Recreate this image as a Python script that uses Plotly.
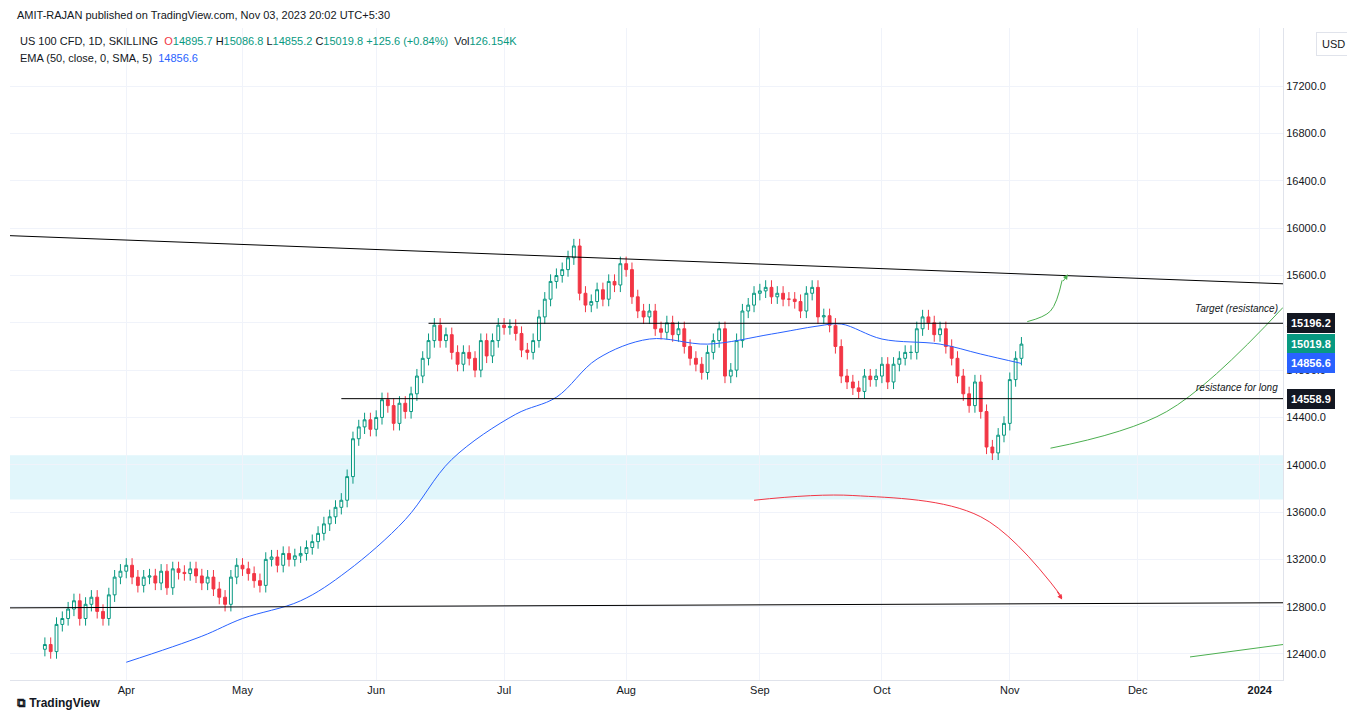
import plotly.graph_objects as go
import pandas as pd

months = [("2023-03-14","2023-03-31"),("2023-04-01","2023-04-30"),("2023-05-01","2023-05-31"),
          ("2023-06-01","2023-06-30"),("2023-07-01","2023-07-31"),("2023-08-01","2023-08-31"),
          ("2023-09-01","2023-09-30"),("2023-10-01","2023-10-31"),("2023-11-01","2023-11-03")]
closes_by_month = [
 [12480,12420,12650,12700,12780,12850,12700,12820,12880,12760,12700,12900,13050,13100],
 [13150,13050,12980,13050,13060,13000,13100,12960,13120,13090,13080,13120,13060,13000,13050,12950,12880,12820,13050,13150],
 [13120,13080,13020,12980,13200,13220,13150,13250,13200,13230,13250,13300,13350,13420,13500,13560,13640,13700,13900,14220,14320,14380,14300],
 [14400,14550,14500,14350,14520,14450,14600,14750,14900,15050,15180,15050,15100,14950,14850,14950,14900,14800,15050,14920,15050,15180],
 [15160,15170,15110,14970,14950,15050,15250,15400,15550,15600,15650,15750,15850,15450,15350,15380,15480,15400,15550,15520,15700],
 [15650,15420,15300,15250,15300,15150,15120,15200,15100,15150,15000,14900,14850,14780,14950,15050,15150,14750,14800,15050,15300,15350,15450],
 [15470,15500,15420,15450,15400,15400,15380,15300,15450,15500,15250,15260,15180,15000,14750,14700,14650,14620,14750,14720,14750],
 [14850,14700,14850,14900,14950,14950,15150,15250,15200,15100,15150,15000,14900,14750,14600,14500,14700,14450,14150,14100,14250,14350],
 [14720,14900,15020],
]
dates, closes = [], []
for (a, b), cl in zip(months, closes_by_month):
    d = list(pd.bdate_range(a, b))
    n = min(len(d), len(cl))
    dates += d[:n]; closes += cl[:n]
opens = [closes[0] - 40] + closes[:-1]
highs = [max(o, c) + 60 for o, c in zip(opens, closes)]
lows = [min(o, c) - 60 for o, c in zip(opens, closes)]

ema_dates = ["2023-04-03","2023-04-20","2023-05-01","2023-05-15","2023-05-25","2023-06-08","2023-06-20",
             "2023-07-05","2023-07-14","2023-07-25","2023-08-07","2023-08-21","2023-09-05","2023-09-15",
             "2023-09-21","2023-10-02","2023-10-16","2023-10-25","2023-11-03"]
ema_vals = [12330,12550,12700,12850,13100,13536,14045,14427,14571,14894,15063,15020,15105,15173,
            15190,15063,15020,14936,14856.6]

fig = go.Figure()
x0, x1 = "2023-03-06", "2024-01-05"
fig.add_shape(type="rect", x0=x0, x1=x1, y0=13706, y1=14080, fillcolor="#e1f6fb", line_width=0, layer="below")
fig.add_trace(go.Candlestick(x=dates, open=opens, high=highs, low=lows, close=closes,
    increasing=dict(line=dict(color="#089981", width=1), fillcolor="#ffffff"),
    decreasing=dict(line=dict(color="#f23645", width=1), fillcolor="#f23645"),
    whiskerwidth=0, showlegend=False))
fig.add_trace(go.Scatter(x=ema_dates, y=ema_vals, mode="lines", line=dict(color="#2962ff", width=1, shape="spline"), showlegend=False))

for (xa, ya, xb, yb) in [(x0, 15937, x1, 15530), (x0, 12790, x1, 12833),
                         ("2023-06-14", 15196.2, x1, 15196.2), ("2023-05-24", 14558.9, x1, 14558.9)]:
    fig.add_shape(type="line", x0=xa, y0=ya, x1=xb, y1=yb, line=dict(color="#000000", width=1))

green = "#4caf50"; red = "#f23645"
fig.add_trace(go.Scatter(x=["2023-11-06","2023-11-10","2023-11-14"], y=[15210,15300,15560], mode="lines",
    line=dict(color=green, width=1, shape="spline"), showlegend=False))
fig.add_trace(go.Scatter(x=["2023-11-10","2023-12-08","2024-01-05"], y=[14140,14450,15330], mode="lines",
    line=dict(color=green, width=1, shape="spline"), showlegend=False))
fig.add_trace(go.Scatter(x=["2023-08-31","2023-09-25","2023-10-25","2023-11-14"], y=[13700,13740,13560,12880], mode="lines",
    line=dict(color=red, width=1, shape="spline"), showlegend=False))
fig.add_trace(go.Scatter(x=["2023-12-14","2024-01-05"], y=[12375,12480], mode="lines",
    line=dict(color=green, width=1), showlegend=False))
for xh, yh, xt, yt, c in [("2023-11-15", 15610, "2023-11-14", 15540, green), ("2023-11-14", 12860, "2023-11-13", 12940, red)]:
    fig.add_annotation(x=xh, y=yh, ax=xt, ay=yt, axref="x", ayref="y", text="", showarrow=True,
                       arrowhead=2, arrowsize=1, arrowwidth=1, arrowcolor=c)

fig.add_annotation(x=0.998, y=15196.2+60, xref="paper", xanchor="right", yanchor="bottom", text="<i>Target (resistance)</i>",
                   showarrow=False, font=dict(size=10, color="#131722"))
fig.add_annotation(x=0.998, y=14558.9+30, xref="paper", xanchor="right", yanchor="bottom", text="<i>resistance for long</i>",
                   showarrow=False, font=dict(size=10, color="#131722"))
for v, bg in [(15196.2, "#131722"), (15019.8, "#089981"), (14856.6, "#2962ff"), (14558.9, "#131722")]:
    fig.add_annotation(x=1.003, y=v, xref="paper", xanchor="left", text=f"<b>{v:.1f}</b>", showarrow=False,
                       bgcolor=bg, font=dict(color="white", size=11), borderpad=3, bordercolor=bg, borderwidth=1)

H = 652.0
def py(pix):  # pixel row in the reference -> paper y
    return 1 - (pix - 28) / H
fig.add_annotation(x=0.004, y=py(15), xref="paper", yref="paper", xanchor="left", yanchor="middle", showarrow=False,
    text="AMIT-RAJAN published on TradingView.com, Nov 03, 2023 20:02 UTC+5:30", font=dict(size=11, color="#131722"))
fig.add_annotation(x=0.006, y=py(41), xref="paper", yref="paper", xanchor="left", yanchor="middle", showarrow=False,
    text="US 100 CFD, 1D, SKILLING  <span style='color:#f23645'>O</span><span style='color:#089981'>14895.7</span> H<span style='color:#089981'>15086.8</span> L<span style='color:#089981'>14855.2</span> C<span style='color:#089981'>15019.8 +125.6 (+0.84%)</span>  Vol<span style='color:#089981'>126.154K</span>",
    font=dict(size=11, color="#131722"))
fig.add_annotation(x=0.006, y=py(58), xref="paper", yref="paper", xanchor="left", yanchor="middle", showarrow=False,
    text="EMA (50, close, 0, SMA, 5)  <span style='color:#2962ff'>14856.6</span>", font=dict(size=11, color="#131722"))
fig.add_annotation(x=0.004, y=py(703), xref="paper", yref="paper", xanchor="left", yanchor="middle", showarrow=False,
    text="<b>⧉ TradingView</b>", font=dict(size=12, color="#131722"))
fig.add_annotation(x=1.04, y=py(44), xref="paper", yref="paper", xanchor="center", yanchor="middle", showarrow=False,
    text="USD", font=dict(size=11, color="#131722"), bordercolor="#e0e3eb", borderwidth=1, borderpad=5)

tickvals = ["2023-04-03","2023-05-01","2023-06-01","2023-07-03","2023-08-01","2023-09-01","2023-10-02","2023-11-01","2023-12-01","2024-01-01"]
ticktext = ["Apr","May","Jun","Jul","Aug","Sep","Oct","Nov","Dec","<b>2024</b>"]
fig.update_layout(width=1340, height=705, margin=dict(l=2, r=65, t=20, b=33),
    paper_bgcolor="white", plot_bgcolor="white", font=dict(family="Liberation Sans, Arial", size=11, color="#131722"),
    xaxis=dict(range=[x0, x1], rangebreaks=[dict(bounds=["sat", "mon"])], rangeslider=dict(visible=False),
               tickvals=tickvals, ticktext=ticktext, showgrid=True, gridcolor="#f0f3fa", showline=True,
               linecolor="#e0e3eb", ticks="", zeroline=False),
    yaxis=dict(side="right", range=[12180, 17693], tickvals=list(range(12400, 17201, 400)),
               ticktext=[f"{v}.0" for v in range(12400, 17201, 400)], showgrid=True, gridcolor="#f0f3fa",
               showline=True, linecolor="#e0e3eb", zeroline=False))
fig.write_html("out.html")
